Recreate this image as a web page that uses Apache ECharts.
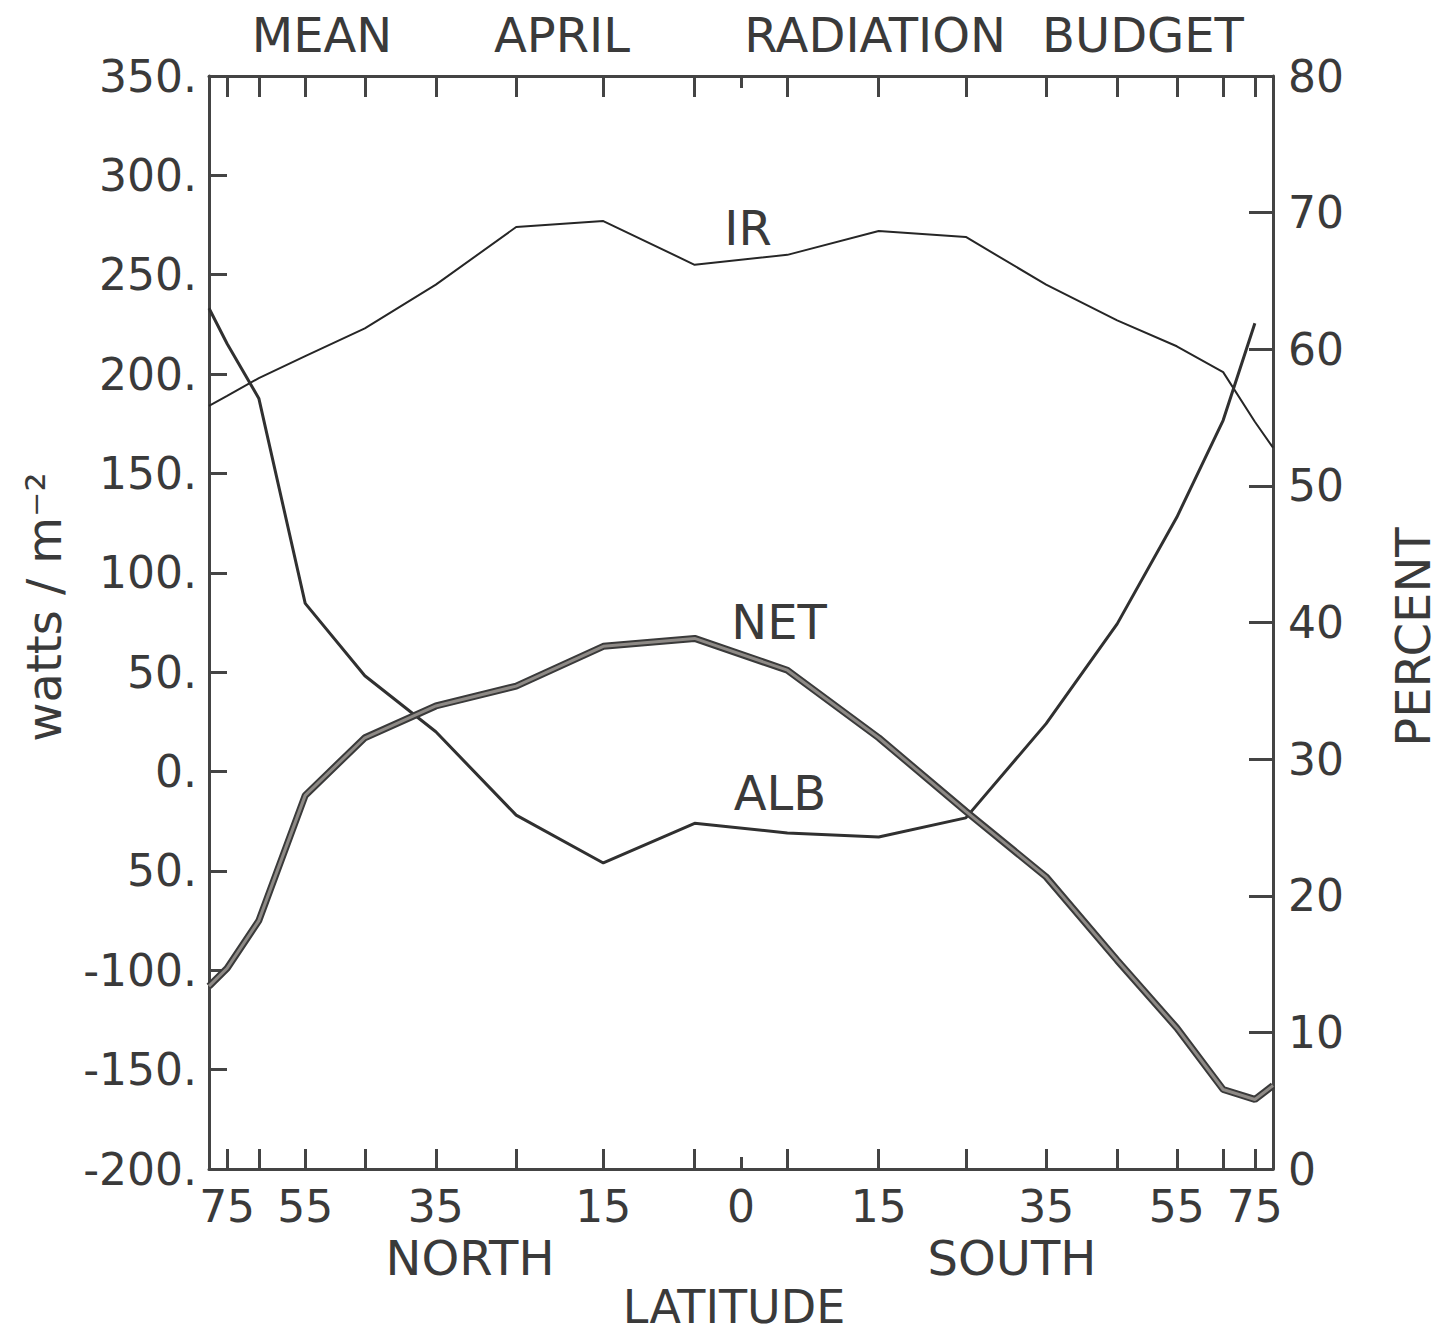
<!DOCTYPE html>
<html>
<head>
<meta charset="utf-8">
<script src="https://cdn.jsdelivr.net/npm/echarts@6/dist/echarts.min.js"></script>
<style>
html,body{margin:0;padding:0;background:#fff;}
#c{width:1442px;height:1335px;}
</style>
</head>
<body>
<div id="c"></div>
<script>
// ---- data (latitude in degrees, + = North) ----
const LAT = [90, 75, 65, 55, 45, 35, 25, 15, 5, -5, -15, -25, -35, -45, -55, -65, -75, -90];
const IR  = [184, 189, 198, 209, 223, 245, 274, 277, 255, 260, 272, 269, 245, 227, 214, 201, 176, 163];
const NET = [-108, -99, -75, -12, 17, 33, 43, 63, 67, 51, 17, -20, -53, -95, -129, -160, -165, -158];
const ALB = [63.0, 60.4, 56.4, 41.4, 36.1, 32.0, 25.9, 22.4, 25.3, 24.6, 24.3, 25.7, 32.6, 39.9, 47.7, 54.8, 61.9, null];

const X_TICK_LATS  = [75, 65, 55, 45, 35, 25, 15, 5, -5, -15, -25, -35, -45, -55, -65, -75];
const X_LABEL_LATS = [75, 55, 35, 15, 0, -15, -35, -55, -75];
const Y_LEFT_LABELS  = ['-200.', '-150.', '-100.', '50.', '0.', '50.', '100.', '150.', '200.', '250.', '300.', '350.'];
const Y_RIGHT_LABELS = ['0', '10', '20', '30', '40', '50', '60', '70', '80'];
const TITLE_WORDS = ['MEAN', 'APRIL', 'RADIATION', 'BUDGET'];

// ---- helpers ----
const toX = lat => -Math.sin(lat * Math.PI / 180);   // area-weighted latitude, North on the left
const pairs = vals => LAT.map((l, i) => [toX(l), vals[i]]);

const FONT = 'DejaVu Sans';
const INK = '#3a3a3a';
const AX = '#444';

function txt(text, x, y, size, rot) {
  return {
    type: 'text', x: x, y: y, rotation: rot || 0, silent: true,
    style: {
      text: text, fill: INK, fontSize: size, fontFamily: FONT,
      textAlign: 'center', textVerticalAlign: 'middle',
      align: 'center', verticalAlign: 'middle'
    }
  };
}

const chart = echarts.init(document.getElementById('c'), null, {renderer: 'svg'});

const baseX = {
  type: 'value', min: -1, max: 1, splitLine: {show: false}
};

const option = {
  backgroundColor: '#ffffff',
  animation: false,
  grid: {left: 209, right: 169, top: 76, bottom: 166, containLabel: false},
  xAxis: [
    Object.assign({}, baseX, {
      position: 'bottom',
      axisLine: {show: true, onZero: false, lineStyle: {color: AX, width: 3}},
      axisTick: {show: true, inside: true, length: 20, customValues: X_TICK_LATS.map(toX),
                 lineStyle: {color: AX, width: 3}},
      axisLabel: {show: true, margin: 15, customValues: X_LABEL_LATS.map(toX),
                  color: INK, fontSize: 44, fontFamily: FONT,
                  formatter: v => String(Math.round(Math.abs(Math.asin(Math.max(-1, Math.min(1, v)))) * 180 / Math.PI))}
    }),
    Object.assign({}, baseX, {
      position: 'top',
      axisLine: {show: true, onZero: false, lineStyle: {color: AX, width: 3}},
      axisTick: {show: true, inside: true, length: 21, customValues: X_TICK_LATS.map(toX),
                 lineStyle: {color: AX, width: 3}},
      axisLabel: {show: false}
    }),
    Object.assign({}, baseX, {
      position: 'bottom',
      axisLine: {show: false, onZero: false},
      axisTick: {show: true, inside: true, length: 12, customValues: [toX(0)],
                 lineStyle: {color: AX, width: 3}},
      axisLabel: {show: false}
    }),
    Object.assign({}, baseX, {
      position: 'top',
      axisLine: {show: false, onZero: false},
      axisTick: {show: true, inside: true, length: 12, customValues: [toX(0)],
                 lineStyle: {color: AX, width: 3}},
      axisLabel: {show: false}
    })
  ],
  yAxis: [
    {
      type: 'value', position: 'left', min: -200, max: 350, interval: 50,
      splitLine: {show: false},
      axisLine: {show: true, onZero: false, lineStyle: {color: AX, width: 3}},
      axisTick: {show: true, inside: true, length: 18, lineStyle: {color: AX, width: 3}},
      axisLabel: {margin: 12, color: INK, fontSize: 44, fontFamily: FONT,
                  formatter: v => Y_LEFT_LABELS[Math.round((v + 200) / 50)]}
    },
    {
      type: 'value', position: 'right', min: 0, max: 80, interval: 10,
      splitLine: {show: false},
      axisLine: {show: true, onZero: false, lineStyle: {color: AX, width: 3}},
      axisTick: {show: true, inside: true, length: 24, lineStyle: {color: AX, width: 3}},
      axisLabel: {margin: 15, color: INK, fontSize: 44, fontFamily: FONT,
                  formatter: v => Y_RIGHT_LABELS[Math.round(v / 10)]}
    }
  ],
  series: [
    {name: 'IR', type: 'line', xAxisIndex: 0, yAxisIndex: 0, data: pairs(IR), symbol: 'none',
     lineStyle: {color: '#262626', width: 2}, z: 3},
    {name: 'ALB', type: 'line', xAxisIndex: 0, yAxisIndex: 1, data: pairs(ALB), symbol: 'none',
     connectNulls: false, lineStyle: {color: '#303030', width: 3}, z: 4},
    {name: 'NET', type: 'line', xAxisIndex: 0, yAxisIndex: 0, data: pairs(NET), symbol: 'none',
     lineStyle: {color: '#3a3a3a', width: 7}, z: 5},
    {name: 'NET inner', type: 'line', xAxisIndex: 0, yAxisIndex: 0, data: pairs(NET), symbol: 'none',
     lineStyle: {color: '#8e8a86', width: 3}, z: 6}
  ],
  graphic: [
    txt(TITLE_WORDS[0], 322, 35, 48),
    txt(TITLE_WORDS[1], 562, 35, 48),
    txt(TITLE_WORDS[2], 875, 35, 48),
    txt(TITLE_WORDS[3], 1143, 35, 48),
    txt('IR', 748, 228, 48),
    txt('NET', 779, 622, 48),
    txt('ALB', 780, 793, 48),
    txt('NORTH', 470, 1258, 48),
    txt('SOUTH', 1012, 1258, 48),
    txt('LATITUDE', 734, 1307, 46),
    txt('watts / m\u207B\u00B2', 44, 607, 48, Math.PI / 2),
    txt('PERCENT', 1413, 637, 48, Math.PI / 2)
  ]
};

chart.setOption(option);
</script>
</body>
</html>
